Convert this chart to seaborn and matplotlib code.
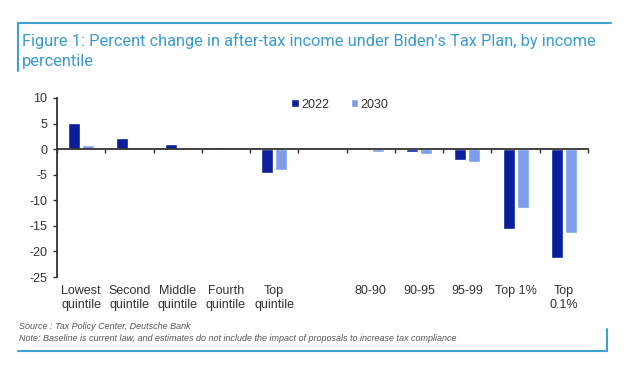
import matplotlib
matplotlib.use("Agg")
import matplotlib.pyplot as plt
from matplotlib.lines import Line2D
import seaborn as sns
import pandas as pd
import numpy as np

categories = ["Lowest\nquintile", "Second\nquintile", "Middle\nquintile", "Fourth\nquintile",
              "Top\nquintile", "", "80-90", "90-95", "95-99", "Top 1%", "Top\n0.1%"]
data_categories = ["Lowest\nquintile", "Second\nquintile", "Middle\nquintile", "Fourth\nquintile",
                   "Top\nquintile", "80-90", "90-95", "95-99", "Top 1%", "Top\n0.1%"]
values_2022 = [5.2, 2.2, 1.1, 0.5, -4.7, -0.1, -0.6, -2.1, -15.6, -21.2]
values_2030 = [0.9, 0.1, 0.05, 0.05, -4.0, -0.5, -1.0, -2.5, -11.6, -16.3]
years = ["2022", "2030"]
yticks = [10, 5, 0, -5, -10, -15, -20, -25]
title_lines = ["Figure 1: Percent change in after-tax income under Biden's Tax Plan, by income",
               "percentile"]

df = pd.DataFrame({
    "cat": data_categories * 2,
    "year": [years[0]] * len(values_2022) + [years[1]] * len(values_2030),
    "val": values_2022 + values_2030,
})

sns.set_style("white")
plt.rcParams["font.family"] = ["Liberation Sans", "DejaVu Sans"]

W, H = 640, 367
fig = plt.figure(figsize=(W / 100, H / 100), dpi=100)
ax = fig.add_axes([57 / W, 1 - 277 / H, 531 / W, 179 / H])

palette = {"2022": "#0c1f9b", "2030": "#7c9cec"}
sns.barplot(data=df, x="cat", y="val", hue="year", order=categories, hue_order=years,
            palette=palette, width=0.58, gap=0.15, ax=ax, saturation=1, errorbar=None)

ax.set_xlim(-0.5, len(categories) - 0.5)
ax.set_ylim(-25, 10)
ax.set_xlabel("")
ax.set_ylabel("")

axis_col = "#333333"
text_col = "#333333"
for s in ["top", "right"]:
    ax.spines[s].set_visible(False)
ax.spines["left"].set_color(axis_col)
ax.spines["left"].set_linewidth(1.3)
ax.spines["bottom"].set_position(("data", 0))
ax.spines["bottom"].set_color(axis_col)
ax.spines["bottom"].set_linewidth(1.3)

ax.set_yticks(yticks)
ax.set_yticklabels([str(v) for v in yticks], fontsize=9, color=text_col)
ax.tick_params(axis="y", direction="out", length=3, width=1, color=axis_col, left=True, pad=4)

bounds = np.arange(-0.5, len(categories), 1.0)
ax.set_xticks(bounds)
ax.set_xticklabels([])
ax.tick_params(axis="x", direction="out", length=3, width=1, color=axis_col, bottom=True)

sec = ax.secondary_xaxis("bottom")
sec.set_xticks(range(len(categories)))
sec.set_xticklabels(categories, fontsize=9, color=text_col, linespacing=1.2)
sec.tick_params(length=0, pad=6)
sec.spines["bottom"].set_visible(False)

leg = ax.legend(loc="upper left", bbox_to_anchor=(0.42, 1.06), ncol=2, frameon=False,
                fontsize=9, handlelength=0.6, handleheight=0.6, handletextpad=0.2,
                columnspacing=1.7)
for t in leg.get_texts():
    t.set_color(text_col)

frame_col = "#3da2d2"
def fx(x):
    return x / W
def fy(y):
    return 1 - y / H
fig.add_artist(Line2D([fx(18), fx(611)], [fy(22.5), fy(22.5)], color=frame_col, lw=1.5))
fig.add_artist(Line2D([fx(18), fx(18)], [fy(22.5), fy(71)], color=frame_col, lw=1.5))
fig.add_artist(Line2D([fx(18), fx(607)], [fy(351), fy(351)], color=frame_col, lw=1.5))
fig.add_artist(Line2D([fx(607), fx(607)], [fy(351), fy(329)], color=frame_col, lw=1.5))

for i, line in enumerate(title_lines):
    fig.text(fx(22), fy(46 + 20 * i), line, fontsize=11.8, color="#3a9bd2", va="baseline",
             ha="left", family=["Roboto", "DejaVu Sans"])
fig.text(fx(19), fy(329), "Source : Tax Policy Center, Deutsche Bank", fontsize=6.5, style="italic",
         color="#555555", va="baseline")
fig.text(fx(19), fy(341), "Note: Baseline is current law, and estimates do not include the impact of proposals to increase tax compliance",
         fontsize=6.5, style="italic", color="#555555", va="baseline")

fig.savefig("out.png", dpi=100)
